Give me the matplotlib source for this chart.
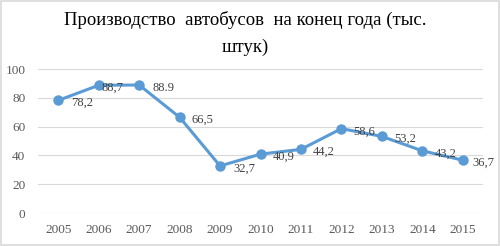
import matplotlib
matplotlib.use("Agg")
import matplotlib.pyplot as plt
from matplotlib.patches import Rectangle

years = ["2005", "2006", "2007", "2008", "2009", "2010", "2011", "2012", "2013", "2014", "2015"]
values = [78.2, 88.7, 88.9, 66.5, 32.7, 40.9, 44.2, 58.6, 53.2, 43.2, 36.7]
labels = ["78,2", "88,7", "88.9", "66,5", "32,7", "40,9", "44,2", "58,6", "53,2", "43,2", "36,7"]
yticks = [0, 20, 40, 60, 80, 100]
title = "Производство  автобусов  на конец года (тыс.\nштук)"

plt.rcParams['font.family'] = ['Liberation Serif', 'DejaVu Serif']

fig = plt.figure(figsize=(5.0, 2.46), dpi=100)
ax = fig.add_axes([0.076, 0.134, 0.89, 0.5855])

x = list(range(len(years)))
ax.plot(x, values, color="#5B9BD5", linewidth=2.2, marker="o", markersize=6.5, zorder=3)

offsets = [13, 3, 13, 12, 13, 12, 12, 12, 12, 12, 10]
for xi, v, lab, off in zip(x, values, labels, offsets):
    ax.annotate(lab, (xi, v), xytext=(off * 0.72, -2), textcoords="offset points",
                ha="left", va="center", fontsize=9, color="#404040", zorder=4)

ax.set_xlim(-0.5, len(years) - 0.5)
ax.set_ylim(0, 100)
ax.set_yticks(yticks)
ax.set_xticks(x)
ax.set_xticklabels(years)
ax.grid(axis="y", color="#D9D9D9", linewidth=0.8, zorder=0)
ax.set_axisbelow(True)
for s in ax.spines.values():
    s.set_visible(False)
ax.tick_params(axis="both", length=0, labelsize=9.5, labelcolor="#595959")
ax.tick_params(axis="y", pad=9)
ax.tick_params(axis="x", pad=8)

fig.text(0.49, 0.955, title, ha="center", va="top", fontsize=13.5, color="#000000",
         linespacing=1.75)

fig.patches.append(Rectangle((0.002, 0.004), 0.996, 0.992, transform=fig.transFigure,
                             fill=False, edgecolor="#D9D9D9", linewidth=1.2))

fig.savefig("out.png", dpi=100)
